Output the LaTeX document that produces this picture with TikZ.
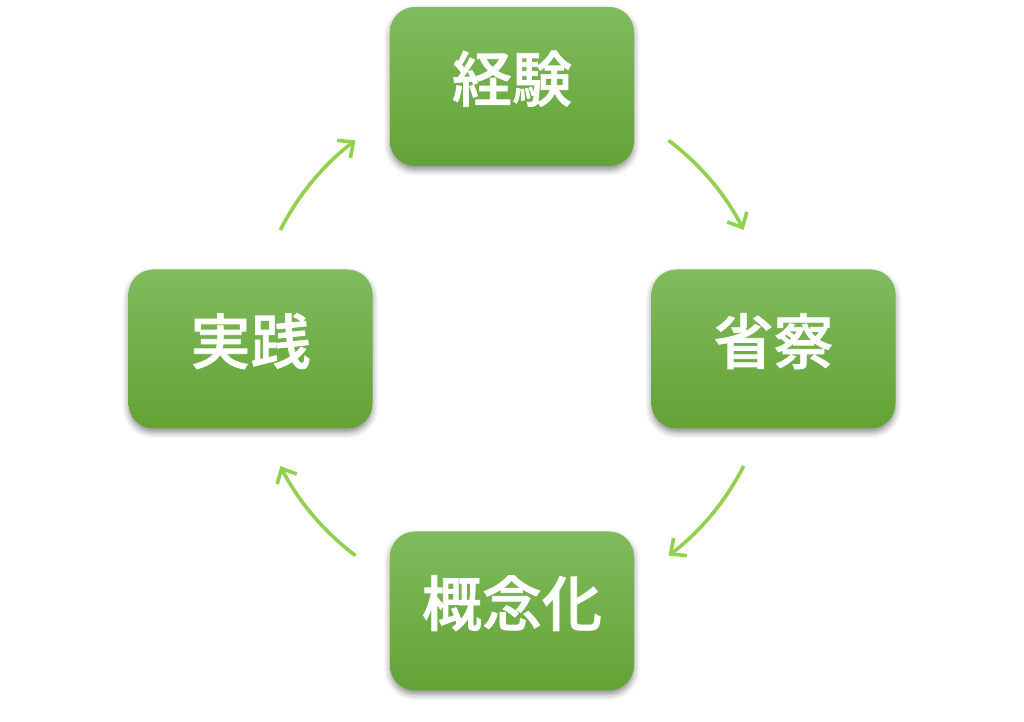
\documentclass[tikz,border=0pt]{standalone}
\usepackage{fontspec}
\newfontfamily\cjk{Noto Sans CJK JP Medium}[FakeBold=1.2]
\usetikzlibrary{arrows.meta,shadows.blur}

\definecolor{boxtop}{RGB}{128,187,94}
\definecolor{boxbot}{RGB}{99,163,52}
\definecolor{arc}{RGB}{146,208,80}

\begin{document}
\begin{tikzpicture}[x=0.5pt,y=0.5pt,
    stage/.style={rectangle,rounded corners=12.5pt,minimum width=122pt,minimum height=79.5pt,
      top color=boxtop,bottom color=boxbot,text=white,text height=26pt,text depth=11pt,
      font=\cjk\fontsize{30}{30}\selectfont,
      blur shadow={shadow xshift=0pt,shadow yshift=-2pt,shadow blur radius=3pt,shadow opacity=45}},
    cyc/.style={draw=arc,line width=1.8pt,-{Straight Barb[length=6pt,width=11pt,line width=1.8pt]}}]
  \useasboundingbox (0,0) rectangle (1024,722);
  \coordinate (c) at (512,374);
  \node[stage] (exp) at (512,635.5) {経験};
  \node[stage] (refl) at (773.5,373) {省察};
  \node[stage] (conc) at (512,111) {概念化};
  \node[stage] (prac) at (250.5,373) {実践};
  % cycle arcs round the centre
  \foreach \a in {53,-27,-127,-207}
    \draw[cyc] (c) ++(\a:130pt) arc[start angle=\a,end angle=\a-26,radius=130pt];
\end{tikzpicture}
\end{document}
